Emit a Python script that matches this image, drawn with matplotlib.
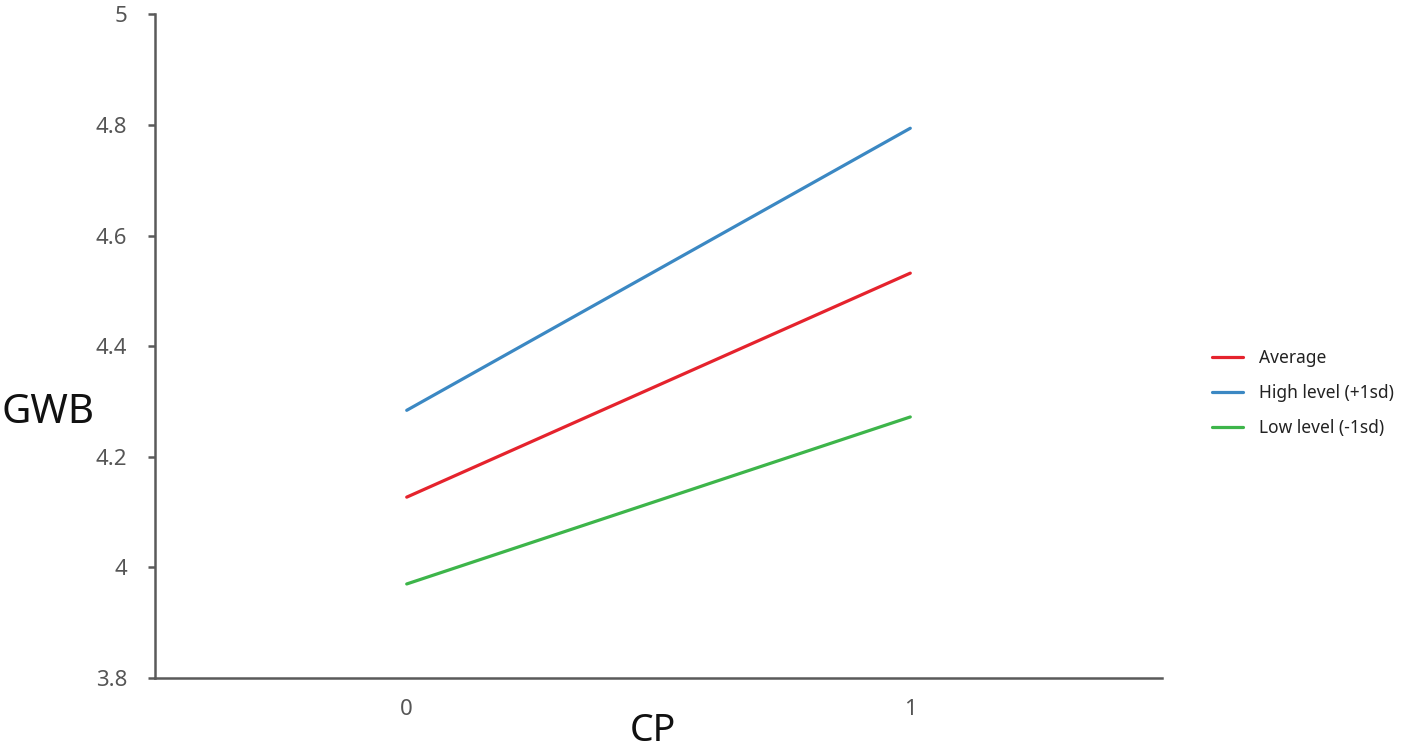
import matplotlib
matplotlib.use("Agg")
import matplotlib.pyplot as plt

plt.rcParams['font.family'] = ['Noto Sans', 'DejaVu Sans']

# CP levels and predicted GWB for each moderator level
cp = [0, 1]
average = [4.127, 4.532]
high = [4.284, 4.794]
low = [3.970, 4.272]
labels = ["Average", "High level (+1sd)", "Low level (-1sd)"]
colors = ["#e5232d", "#3b88c3", "#3db54a"]
y_ticks = [3.8, 4, 4.2, 4.4, 4.6, 4.8, 5]
y_ticklabels = ["3.8", "4", "4.2", "4.4", "4.6", "4.8", "5"]

fig = plt.figure(figsize=(14.06, 7.53), dpi=100)
ax = fig.add_axes([0.1102, 0.0996, 0.7163, 0.8814])

for series, lab, col in zip([average, high, low], labels, colors):
    ax.plot(cp, series, color=col, lw=2.3, label=lab, solid_capstyle='round')

ax.set_xlim(-0.5, 1.5)
ax.set_ylim(3.8, 5)
ax.set_yticks(y_ticks)
ax.set_yticklabels(y_ticklabels)
ax.set_xticks(cp)
ax.set_xticklabels(["0", "1"])

for s in ["top", "right"]:
    ax.spines[s].set_visible(False)
for s in ["left", "bottom"]:
    ax.spines[s].set_color("#5a5a5a")
    ax.spines[s].set_linewidth(1.8)

ax.tick_params(axis='y', length=5, width=1.8, color="#5a5a5a", pad=15,
               labelsize=16, labelcolor="#555555")
ax.tick_params(axis='x', length=0, pad=15, labelsize=16, labelcolor="#555555")

ax.set_ylabel("GWB", rotation=0, fontsize=29, color="#111111", va='center', ha='center')
ax.yaxis.set_label_coords(-0.106, 0.40)
ax.set_xlabel("CP", fontsize=27, color="#111111", va='center', ha='center')
ax.xaxis.set_label_coords(0.494, -0.080)

fig.legend(loc='center left', bbox_to_anchor=(0.851, 0.478), frameon=False,
           fontsize=12.5, handlelength=1.75, handletextpad=0.95, labelspacing=1.0,
           labelcolor="#222222")

fig.savefig("out.png", dpi=100)
